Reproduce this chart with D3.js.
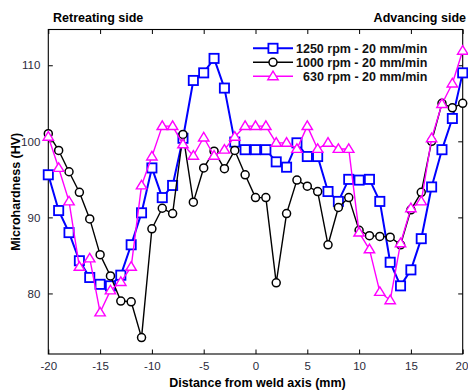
<!DOCTYPE html>
<html><head><meta charset="utf-8">
<script src="https://cdn.jsdelivr.net/npm/d3@7"></script>
<style>
html,body{margin:0;padding:0;background:#fff;}
svg{display:block;font-family:"Liberation Sans",Arial,sans-serif;}
</style></head>
<body>
<svg id="c" width="468" height="390"></svg>
<script>
const distances = d3.range(-20, 21, 1);
const series1250 = [95.6,90.9,88.0,84.3,82.1,81.2,81.0,82.4,86.4,90.6,
  96.5,92.6,94.2,100.4,108.0,109.0,110.9,107.0,99.9,98.9,
  98.9,98.9,97.3,96.6,99.8,98.0,98.0,93.4,92.1,95.0,
  94.9,95.0,92.1,84.1,81.0,83.1,87.2,94.0,98.9,103.0,109.0];
const series1000 = [101.0,98.8,96.0,93.3,89.8,85.1,82.3,79.0,78.9,74.2,
  88.5,91.2,90.5,100.9,92.0,96.5,98.7,96.4,98.8,95.6,
  92.6,92.6,81.4,90.5,94.9,94.1,93.4,86.4,91.3,92.6,
  88.3,87.6,87.5,87.4,86.4,91.0,93.3,100.0,105.0,104.4,105.0];
const series630 = [100.6,96.5,92.1,83.5,84.6,77.5,80.4,81.5,83.5,94.2,
  98.0,102.0,102.0,99.6,98.1,100.5,98.1,98.9,100.6,102.0,
  102.0,102.0,99.8,99.8,99.0,102.0,99.0,99.8,99.0,99.0,
  88.0,85.8,80.2,79.1,86.6,91.2,92.1,100.4,104.9,107.6,111.9];
const seriesNames = ["1250 rpm - 20 mm/min","1000 rpm - 20 mm/min","630 rpm - 20 mm/min"];
const xTicks = [-20,-15,-10,-5,0,5,10,15,20];
const yTicks = [80,90,100,110];

const svg = d3.select("#c");
const L = 48.3, R = 462.7, T = 29.5, B = 354;
const x = d3.scaleLinear().domain([-20,20]).range([L,R]);
const y = d3.scaleLinear().domain([72.04,114.7]).range([B,T]);

// frame
svg.append("rect").attr("x",L).attr("y",T).attr("width",R-L).attr("height",B-T)
  .attr("fill","none").attr("stroke","#000").attr("stroke-width",1.1);

const tl = 4.5;
const fmt = d => String(d);
// axes with inward ticks
const gx = svg.append("g").attr("transform",`translate(0,${B})`)
  .call(d3.axisBottom(x).tickValues(xTicks).tickSize(-tl).tickPadding(8).tickFormat(fmt));
const gxt = svg.append("g").attr("transform",`translate(0,${T})`)
  .call(d3.axisTop(x).tickValues(xTicks).tickSize(-tl).tickFormat(""));
const gy = svg.append("g").attr("transform",`translate(${L},0)`)
  .call(d3.axisLeft(y).tickValues(yTicks).tickSize(-tl).tickPadding(8).tickFormat(fmt));
const gyr = svg.append("g").attr("transform",`translate(${R},0)`)
  .call(d3.axisRight(y).tickValues(yTicks).tickSize(-tl).tickFormat(""));
[gx,gxt,gy,gyr].forEach(g=>{
  g.select(".domain").remove();
  g.selectAll(".tick line").attr("stroke","#000");
  g.selectAll("text").attr("font-size","11.5px").attr("fill","#2b2b3b")
    .attr("font-family","'Liberation Sans',Arial,sans-serif");
});
// keep the last x label inside the window
gx.selectAll(".tick text").filter(d=>d===20).attr("text-anchor","end").attr("dx","5.2");

// series
const colors = ["#0000ff","#000000","#ff00ff"];
const data = [series1250, series1000, series630];
const kinds = ["square","circle","triangle"];
const lineW = [2, 1.4, 1.4];

function marker(g, kind, cx, cy, col){
  if(kind==="square"){
    g.append("rect").attr("x",cx-4.6).attr("y",cy-4.6).attr("width",9.2).attr("height",9.2)
     .attr("fill","#fff").attr("stroke",col).attr("stroke-width",1.8);
  } else if(kind==="circle"){
    g.append("circle").attr("cx",cx).attr("cy",cy).attr("r",4)
     .attr("fill","#fff").attr("stroke",col).attr("stroke-width",1.5);
  } else {
    const h=8.6, w=10.4;
    g.append("path").attr("d",`M${cx},${cy-h*0.6}L${cx+w/2},${cy+h*0.4}L${cx-w/2},${cy+h*0.4}Z`)
     .attr("fill","#fff").attr("stroke",col).attr("stroke-width",1.4);
  }
}

const lineGen = d3.line().x(d=>x(d[0])).y(d=>y(d[1]));
data.forEach((vals,i)=>{
  const pts = distances.map((d,j)=>[d, vals[j]]);
  const g = svg.append("g");
  g.append("path").attr("d",lineGen(pts)).attr("fill","none")
    .attr("stroke",colors[i]).attr("stroke-width",lineW[i]).attr("stroke-linejoin","round");
  pts.forEach(p=>marker(g, kinds[i], x(p[0]), y(p[1]), colors[i]));
});

// legend
const lg = svg.append("g");
seriesNames.forEach((name,i)=>{
  const ly = 48.3 + i*14;
  lg.append("line").attr("x1",253).attr("x2",293).attr("y1",ly).attr("y2",ly)
    .attr("stroke",colors[i]).attr("stroke-width",lineW[i]);
  marker(lg, kinds[i], 273, ly, colors[i]);
  lg.append("text").attr("x", i===2 ? 303 : 296).attr("y", ly+4.3)
    .attr("font-size","12.5px").attr("font-weight","bold").attr("fill","#111")
    .text(name);
});

// titles
svg.append("text").attr("x",53).attr("y",22).attr("font-size","12.5px").attr("font-weight","bold")
  .text("Retreating side");
svg.append("text").attr("x",466).attr("y",22).attr("text-anchor","end").attr("font-size","12.5px").attr("font-weight","bold")
  .text("Advancing side");
svg.append("text").attr("x",(L+R)/2+2).attr("y",387).attr("text-anchor","middle")
  .attr("font-size","12.5px").attr("font-weight","bold").text("Distance from weld axis (mm)");
svg.append("text").attr("transform",`translate(20,${(T+B)/2}) rotate(-90)`).attr("text-anchor","middle")
  .attr("font-size","12.5px").attr("font-weight","bold").text("Microhardness (HV)");
</script>
</body></html>
